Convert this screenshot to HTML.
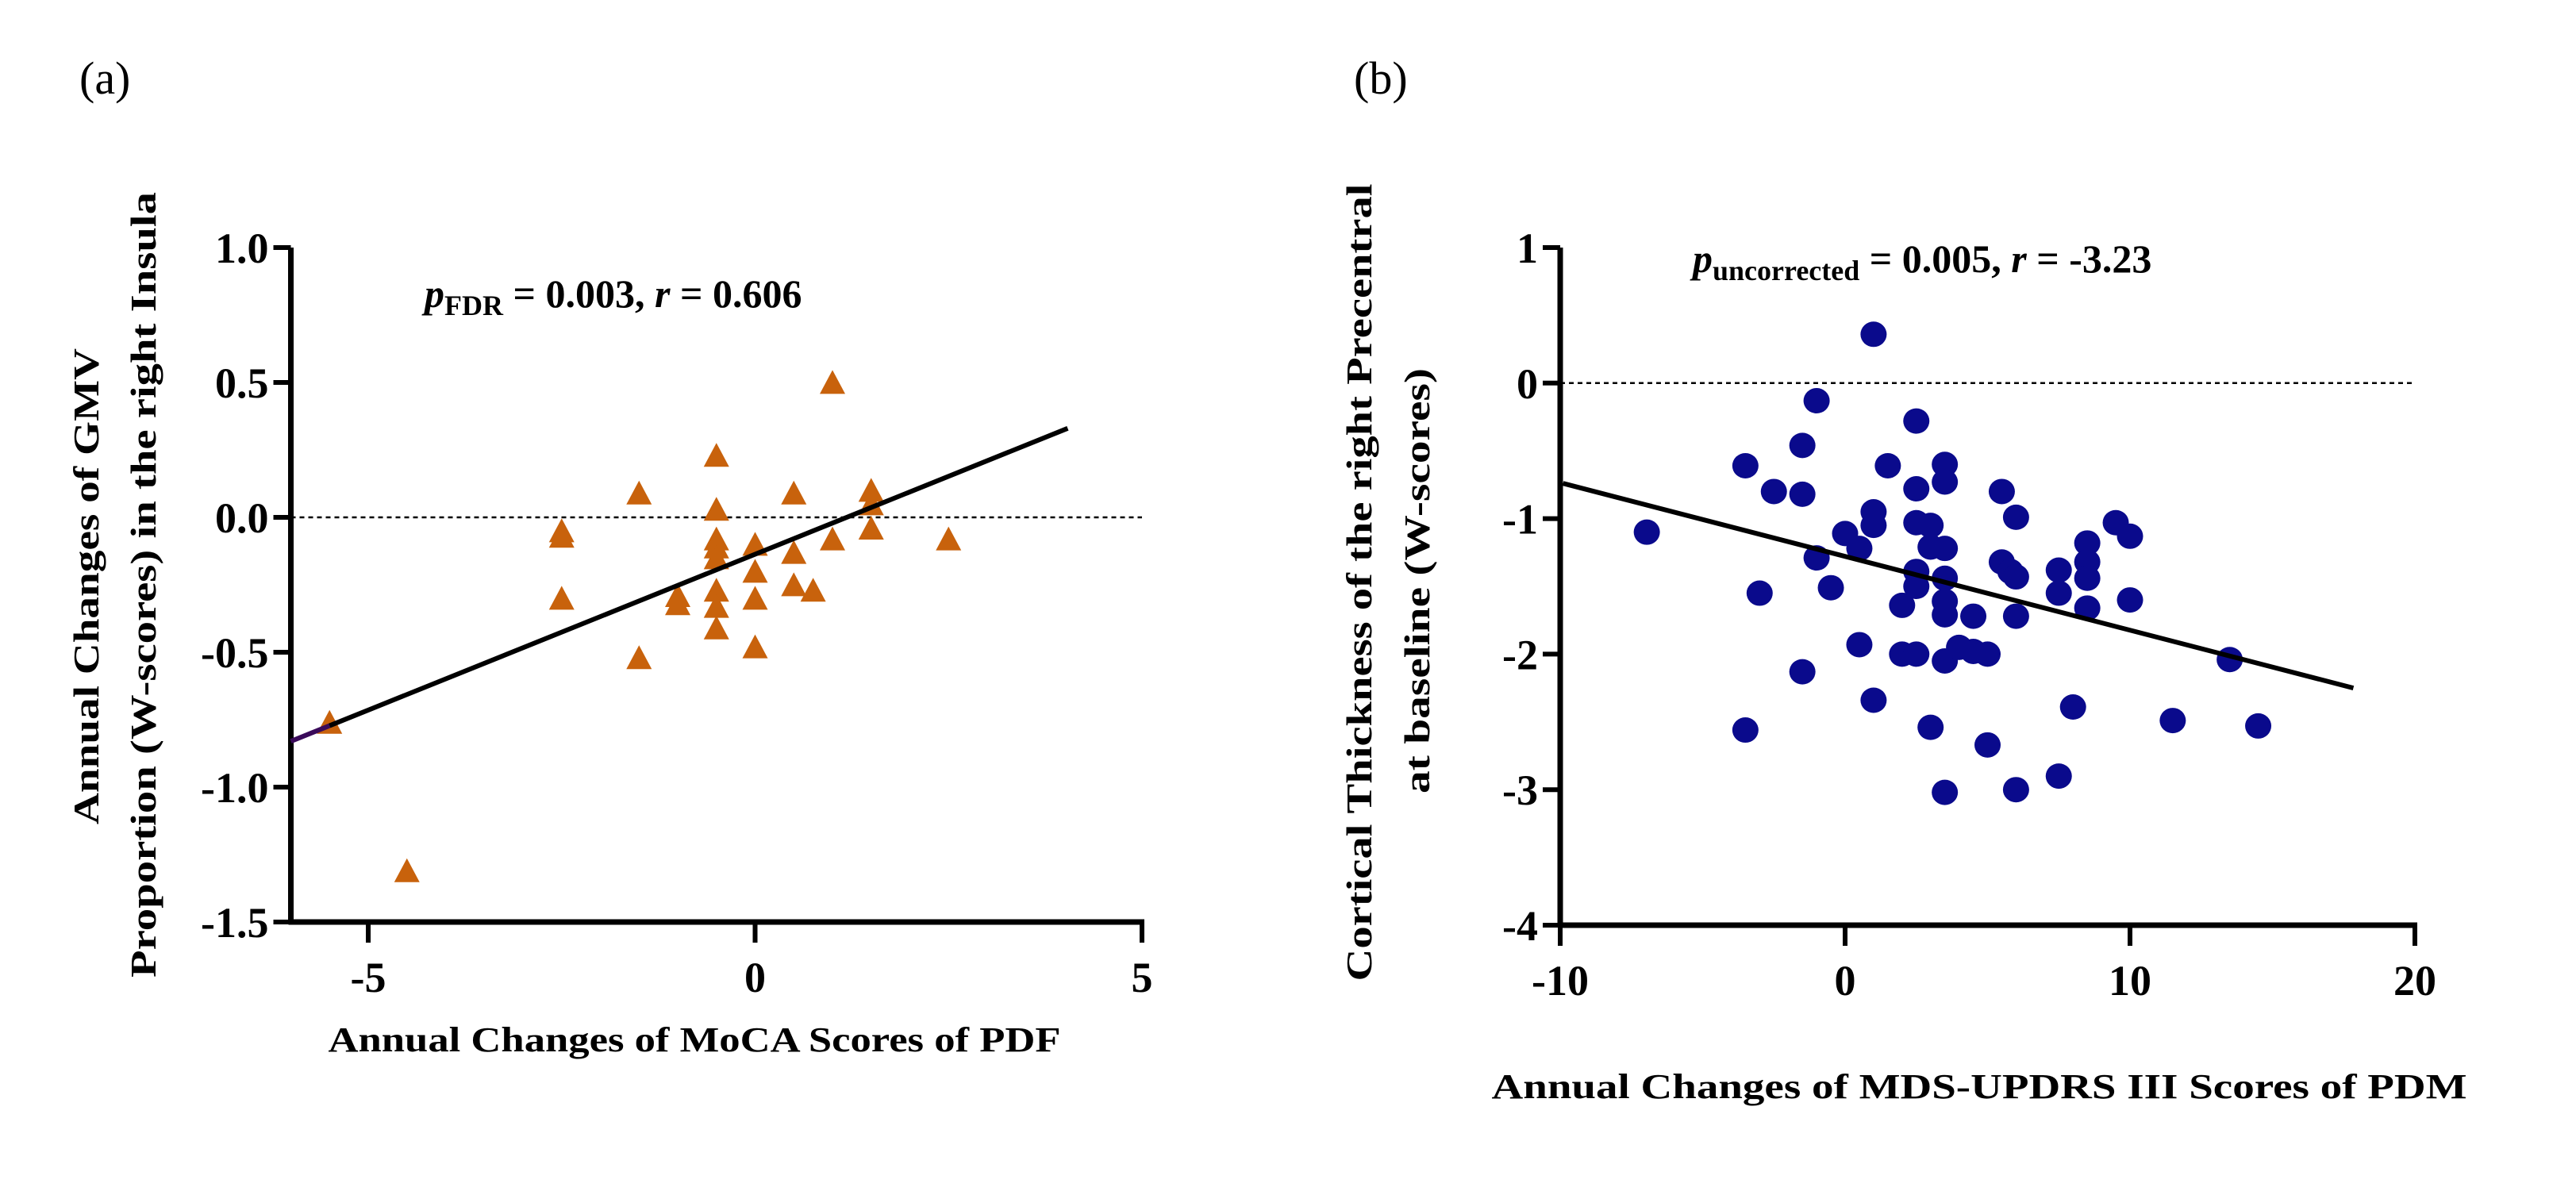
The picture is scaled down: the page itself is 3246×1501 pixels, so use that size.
<!DOCTYPE html>
<html><head><meta charset="utf-8">
<style>
html,body{margin:0;padding:0;background:#fff;}
svg{display:block;font-family:"Liberation Serif",serif;}
</style></head>
<body>
<svg id="fig" width="3246" height="1501" viewBox="0 0 3246 1501" xmlns="http://www.w3.org/2000/svg">
<text x="100" y="118" font-size="58">(a)</text>
<text x="1706" y="118" font-size="58">(b)</text>
<g id="pa"></g>
<g id="pb"></g>
<text transform="translate(124,739) rotate(-90)" text-anchor="middle" font-size="46" font-weight="bold" textLength="600" lengthAdjust="spacingAndGlyphs">Annual Changes of GMV</text>
<text transform="translate(196,737) rotate(-90)" text-anchor="middle" font-size="46" font-weight="bold" textLength="990" lengthAdjust="spacingAndGlyphs">Proportion (W-scores) in the right Insula</text>
<text transform="translate(1728,734) rotate(-90)" text-anchor="middle" font-size="46" font-weight="bold" textLength="1005" lengthAdjust="spacingAndGlyphs">Cortical Thickness of the right Precentral</text>
<text transform="translate(1801,732) rotate(-90)" text-anchor="middle" font-size="46" font-weight="bold" textLength="536" lengthAdjust="spacingAndGlyphs">at baseline (W-scores)</text>
<text x="875" y="1325" text-anchor="middle" font-size="44" font-weight="bold" textLength="923" lengthAdjust="spacingAndGlyphs">Annual Changes of MoCA Scores of PDF</text>
<text x="2494" y="1384" text-anchor="middle" font-size="44" font-weight="bold" textLength="1229" lengthAdjust="spacingAndGlyphs">Annual Changes of MDS-UPDRS  III Scores of PDM</text>
<text x="535" y="387" font-size="50" font-weight="bold"><tspan font-style="italic">p</tspan><tspan font-size="36" dy="10">FDR</tspan><tspan dy="-10"> = 0.003, </tspan><tspan font-style="italic">r</tspan><tspan> = 0.606</tspan></text>
<text x="2133" y="343" font-size="50" font-weight="bold"><tspan font-style="italic">p</tspan><tspan font-size="36" dy="10">uncorrected</tspan><tspan dy="-10"> = 0.005, </tspan><tspan font-style="italic">r</tspan><tspan> = -3.23</tspan></text>
</svg>
<script>
// Panel A data
const aXTicks = [-5, 0, 5];
const aYTicks = [1.0, 0.5, 0.0, -0.5, -1.0, -1.5];
const aYTickLabels = ["1.0", "0.5", "0.0", "-0.5", "-1.0", "-1.5"];
const aX = [-5.5, -4.5, -2.5, -2.5, -2.5, -1.5, -1.5, -1, -1, -0.5, -0.5, -0.5, -0.5, -0.5, -0.5, -0.5, -0.5, 0, 0, 0, 0, 0.5, 0.5, 0.5, 0.75, 1, 1, 1.5, 1.5, 1.5, 2.5];
const aY = [-0.77, -1.32, -0.06, -0.08, -0.31, 0.08, -0.53, -0.30, -0.33, 0.22, 0.02, -0.09, -0.12, -0.16, -0.28, -0.34, -0.42, -0.11, -0.21, -0.31, -0.49, 0.08, -0.14, -0.26, -0.28, 0.49, -0.09, 0.09, 0.04, -0.05, -0.09];
const aFitX = [-6, 4.04];
const aFitY = [-0.83, 0.33];
// Panel B data
const bXTicks = [-10, 0, 10, 20];
const bYTicks = [1, 0, -1, -2, -3, -4];
const bYTickLabels = ["1", "0", "-1", "-2", "-3", "-4"];
const bX = [-6.96,-3.5,-3.5,-3,-2.5,-1.5,-1.5,-1.5,-1,-1,-0.5,0,0.5,0.5,1,1,1,1,1.5,2,2,2.5,2.5,2.5,2.5,2.5,2.5,3,3,3,3.5,3.5,3.5,3.5,3.5,3.5,3.5,3.5,4,4.5,4.5,5,5,5.5,5.5,5.8,6,6,6,6,7.5,7.5,7.5,8,8.5,8.5,8.5,8.5,9.5,10,10,11.5,13.5,14.5];
const bY = [-1.10,-0.61,-2.56,-1.55,-0.80,-0.46,-0.82,-2.13,-0.13,-1.29,-1.51,-1.11,-1.22,-1.93,0.36,-0.95,-1.05,-2.34,-0.61,-1.64,-2.0,-0.28,-0.78,-1.03,-1.39,-1.50,-2.0,-1.05,-1.21,-2.54,-0.60,-0.73,-1.22,-1.44,-1.61,-1.71,-2.05,-3.02,-1.95,-1.72,-1.98,-2.0,-2.67,-0.80,-1.32,-1.39,-0.99,-1.43,-1.72,-3.0,-1.38,-1.55,-2.90,-2.39,-1.18,-1.32,-1.44,-1.66,-1.03,-1.13,-1.60,-2.49,-2.04,-2.53];
const bFitX = [-9.9, 17.84];
const bFitY = [-0.74, -2.25];

const NS = "http://www.w3.org/2000/svg";
function mk(parent, tag, attrs){
  const e = document.createElementNS(NS, tag);
  for (const k in attrs) e.setAttribute(k, attrs[k]);
  parent.appendChild(e);
  return e;
}
function lin(d0, d1, r0, r1){ return v => r0 + (v - d0) * (r1 - r0) / (d1 - d0); }

function axes(g, sx, sy, xmin, xmax, ymin, ymax, xt, yt, ytl){
  const x0 = sx(xmin), x1 = sx(xmax), y0 = sy(ymin), y1 = sy(ymax);
  const zl = mk(g, "line", {x1:x0, y1:sy(0), x2:x1, y2:sy(0), stroke:"#000", "stroke-width":2.5, "stroke-dasharray":"6,5"});
  
  
  const ya = mk(g, "line", {x1:x0, y1:y1, x2:x0, y2:y0+3, stroke:"#000", "stroke-width":7});
  
  
  const xa = mk(g, "line", {x1:x0-3, y1:y0, x2:x1+3, y2:y0, stroke:"#000", "stroke-width":7});
  
  
  yt.forEach((v, i) => {
    const t = mk(g, "line", {x1:x0-22, y1:sy(v), x2:x0, y2:sy(v), stroke:"#000", "stroke-width":6});
    
    
    const l = mk(g, "text", {x:x0-28, y:sy(v)+19, "text-anchor":"end", "font-size":54, "font-weight":"bold"});
    l.textContent = ytl[i];
    
    
  });
  xt.forEach(v => {
    const t = mk(g, "line", {x1:sx(v), y1:y0, x2:sx(v), y2:y0+26, stroke:"#000", "stroke-width":6});
    
    
    const l = mk(g, "text", {x:sx(v), y:y0+88, "text-anchor":"middle", "font-size":54, "font-weight":"bold"});
    l.textContent = String(v);
    
    
  });
}

// Panel A
(function(){
  const g = document.getElementById("pa");
  const sx = lin(-5, 5, 464, 1439), sy = lin(1.0, -1.5, 312, 1162);
  axes(g, sx, sy, -6, 5, -1.5, 1.0, aXTicks, aYTicks, aYTickLabels);
  aX.forEach((x, i) => {
    const cx = sx(x), cy = sy(aY[i]);
    const p = mk(g, "polygon", {points:`${cx},${cy-19} ${cx-16},${cy+11} ${cx+16},${cy+11}`, fill:"#c8620c"});
    
    
  });
  const midY = aFitY[0] + (aFitY[1]-aFitY[0])*0.5/(aFitX[1]-aFitX[0]);
  const seg = mk(g, "line", {x1:sx(aFitX[0]), y1:sy(aFitY[0]), x2:sx(-5.5), y2:sy(midY), stroke:"#3a0a5a", "stroke-width":6});
  
  
  const f = mk(g, "line", {x1:sx(-5.5), y1:sy(midY), x2:sx(aFitX[1]), y2:sy(aFitY[1]), stroke:"#000", "stroke-width":6});
  
  
})();

// Panel B
(function(){
  const g = document.getElementById("pb");
  const sx = lin(-10, 20, 1966, 3043), sy = lin(1, -4, 312, 1166);
  axes(g, sx, sy, -10, 20, -4, 1, bXTicks, bYTicks, bYTickLabels);
  bX.forEach((x, i) => {
    const c = mk(g, "ellipse", {cx:sx(x), cy:sy(bY[i]), rx:16.5, ry:16, fill:"#0a0a8c"});
    
    
  });
  const f = mk(g, "line", {x1:sx(bFitX[0]), y1:sy(bFitY[0]), x2:sx(bFitX[1]), y2:sy(bFitY[1]), stroke:"#000", "stroke-width":6});
  
  
})();
</script>
</body></html>
